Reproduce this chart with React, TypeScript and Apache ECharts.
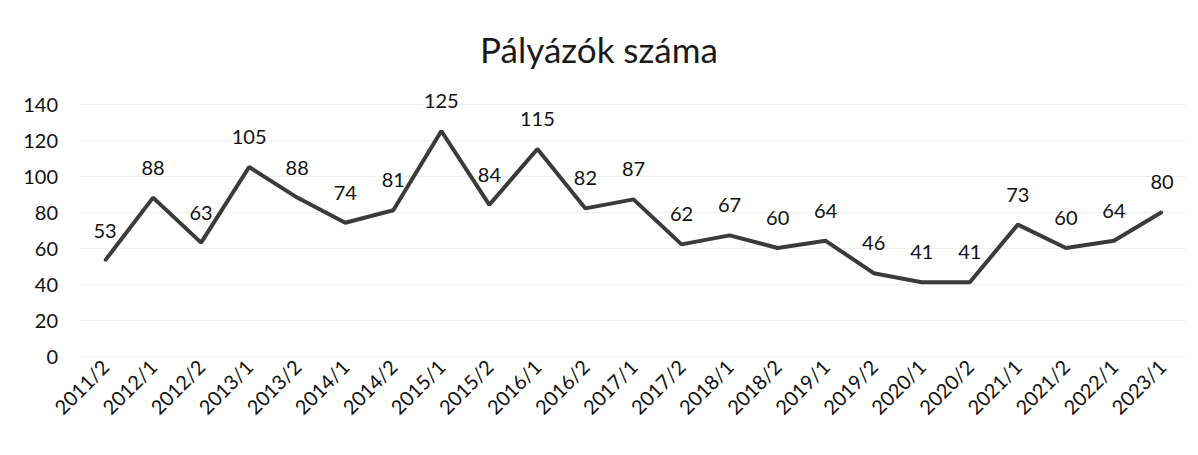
import React, { useEffect, useRef } from "react";
import * as echarts from "echarts";

const categories = [
  "2011/2", "2012/1", "2012/2", "2013/1", "2013/2", "2014/1", "2014/2", "2015/1",
  "2015/2", "2016/1", "2016/2", "2017/1", "2017/2", "2018/1", "2018/2", "2019/1",
  "2019/2", "2020/1", "2020/2", "2021/1", "2021/2", "2022/1", "2023/1",
];
const applicants = [53, 88, 63, 105, 88, 74, 81, 125, 84, 115, 82, 87, 62, 67, 60, 64, 46, 41, 41, 73, 60, 64, 80];
const titleText = "Pályázók száma";

export default function App() {
  const ref = useRef<HTMLDivElement>(null);
  useEffect(() => {
    if (!ref.current) return;
    const chart = echarts.init(ref.current, undefined, { renderer: "svg" });
    const font = "Lato, 'Open Sans', sans-serif";
    chart.setOption({
      animation: false,
      backgroundColor: "#ffffff",
      title: {
        text: titleText,
        left: "center",
        top: 18,
        textStyle: { fontFamily: font, fontSize: 35, fontWeight: "normal", color: "#1a1a1a" },
      },
      grid: { left: 73, right: 4, top: 96, bottom: 91, containLabel: false },
      xAxis: {
        type: "category",
        data: categories,
        boundaryGap: true,
        axisLine: { show: false },
        axisTick: { show: false },
        axisLabel: {
          rotate: 45,
          interval: 0,
          margin: 7,
          fontFamily: font,
          fontSize: 20,
          color: "#111111",
        },
      },
      yAxis: {
        type: "value",
        min: 0,
        max: 140,
        interval: 20,
        axisLine: { show: false },
        axisTick: { show: false },
        splitLine: { lineStyle: { color: "#eeeeee", width: 1 } },
        axisLabel: { fontFamily: font, fontSize: 20, color: "#111111", margin: 23 },
      },
      series: [
        {
          type: "line",
          data: applicants,
          symbol: "circle",
          symbolSize: 2,
          showSymbol: true,
          itemStyle: { color: "#3b3b3b" },
          lineStyle: { color: "#3b3b3b", width: 4 },
          label: {
            show: true,
            position: "top",
            distance: 20,
            fontFamily: font,
            fontSize: 20,
            color: "#111111",
          },
        },
      ],
    });
    return () => chart.dispose();
  }, []);
  return <div ref={ref} style={{ width: 1182, height: 439 }} />;
}
